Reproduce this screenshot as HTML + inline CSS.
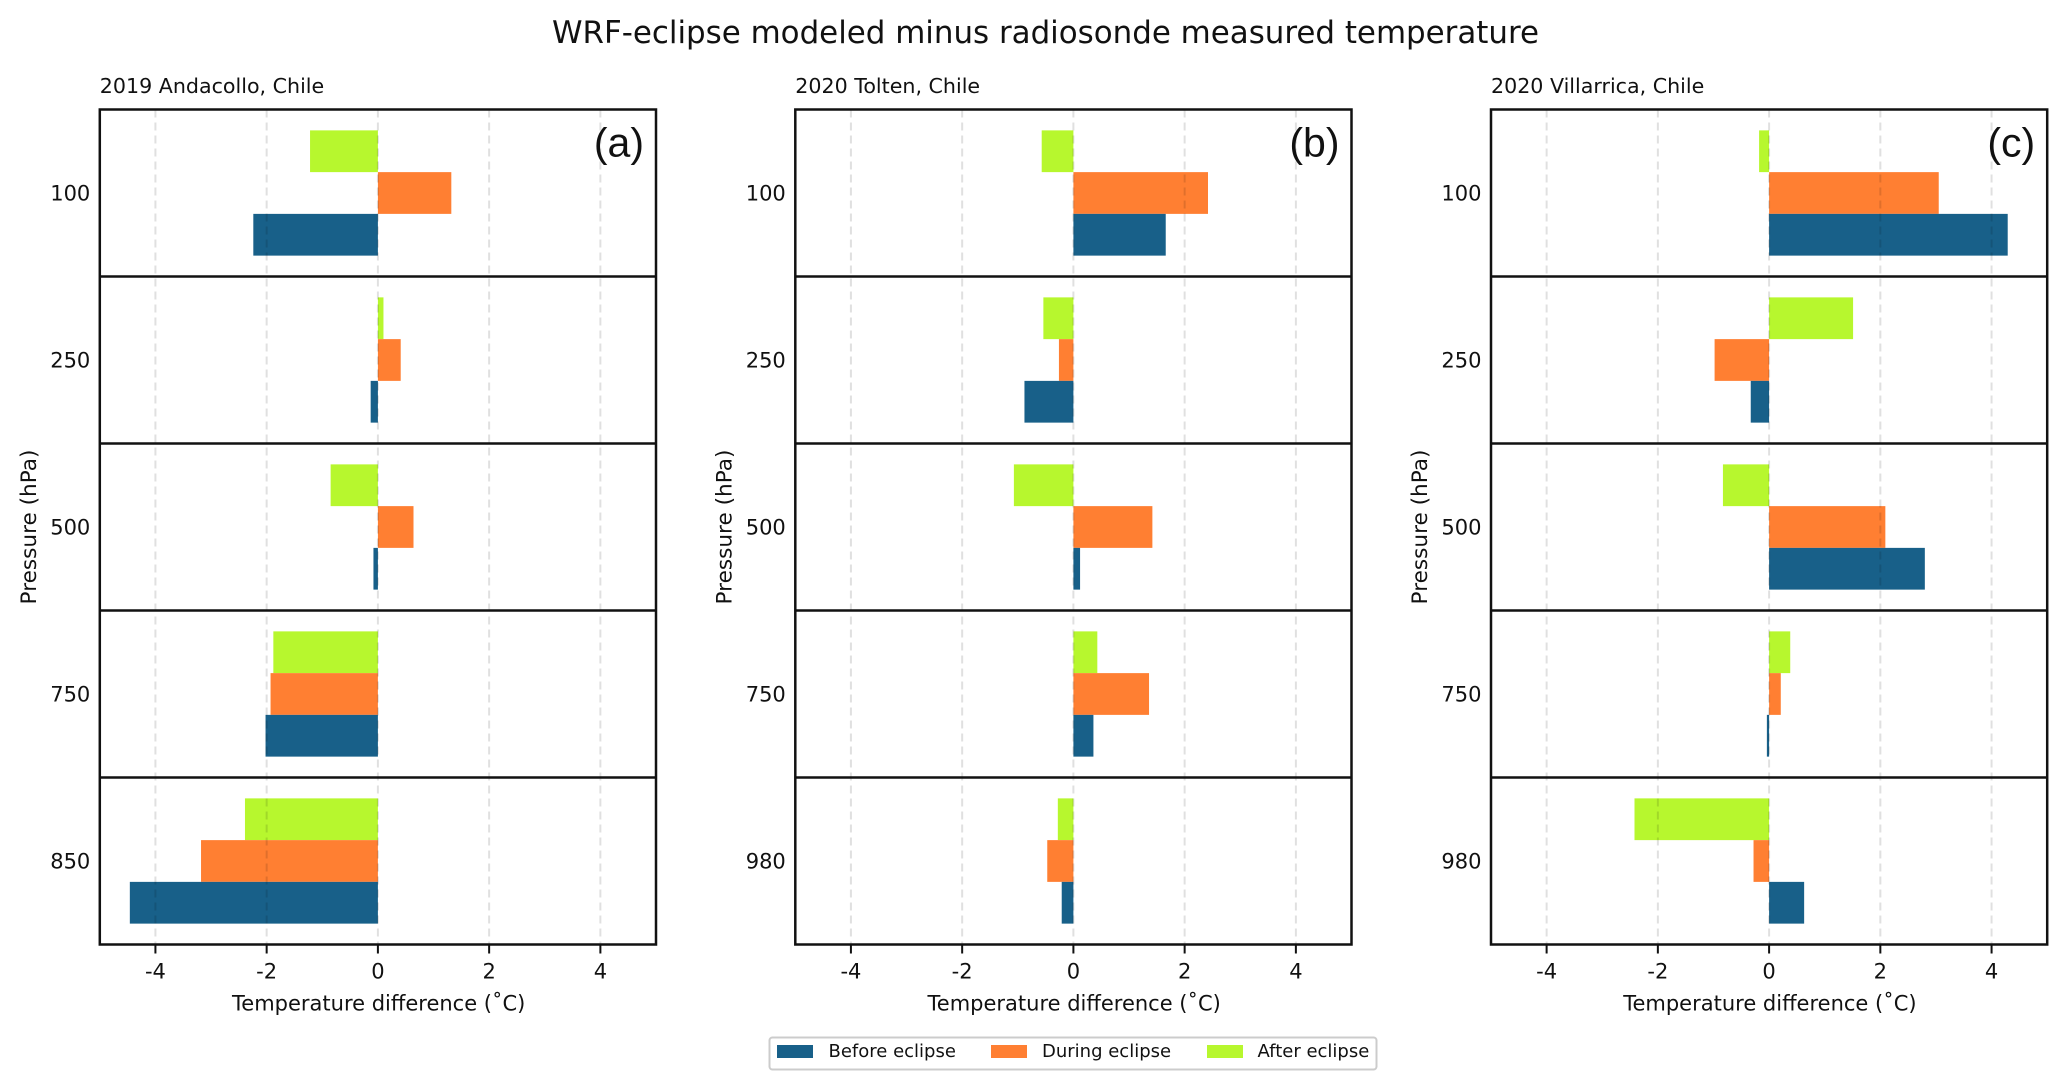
<!DOCTYPE html>
<html lang="en">
<head>
<meta charset="utf-8">
<title>WRF-eclipse modeled minus radiosonde measured temperature</title>
<style>
html,body{margin:0;padding:0;background:#fff;}
svg{display:block;}
text{font-family:"DejaVu Sans",sans-serif;fill:#111;}
</style>
</head>
<body>
<svg id="chart" xmlns="http://www.w3.org/2000/svg" width="2067" height="1089" viewBox="0 0 2067 1089">
  <rect x="0" y="0" width="2067" height="1089" fill="#fff"/>
  <text x="1045.5" y="43" text-anchor="middle" font-size="30.9">WRF-eclipse modeled minus radiosonde measured temperature</text>
  <g id="panels"></g>
  <g>
    <rect x="769.5" y="1037.5" width="607" height="32" rx="3" fill="#fff" stroke="#ccc" stroke-width="2"/>
    <rect x="777" y="1045" width="36" height="13" fill="#186089"/>
    <text x="828.5" y="1057" font-size="18">Before eclipse</text>
    <rect x="991" y="1045" width="36" height="13" fill="#ff7f32"/>
    <text x="1042" y="1057" font-size="18">During eclipse</text>
    <rect x="1207" y="1045" width="36" height="13" fill="#b7f72e"/>
    <text x="1257.5" y="1057" font-size="18">After eclipse</text>
  </g>
</svg>
<script>
// Chart data
const panelTitles = ['2019 Andacollo, Chile', '2020 Tolten, Chile', '2020 Villarrica, Chile'];
const panelLetters = ['(a)', '(b)', '(c)'];
const pressureA = [100, 250, 500, 750, 850];
const pressureB = [100, 250, 500, 750, 980];
const pressureC = [100, 250, 500, 750, 980];
const beforeA = [-2.24, -0.13, -0.08, -2.02, -4.46];
const duringA = [1.32, 0.41, 0.64, -1.93, -3.18];
const afterA = [-1.22, 0.10, -0.85, -1.88, -2.39];
const beforeB = [1.66, -0.88, 0.12, 0.36, -0.21];
const duringB = [2.42, -0.26, 1.42, 1.36, -0.47];
const afterB = [-0.57, -0.54, -1.07, 0.43, -0.28];
const beforeC = [4.29, -0.33, 2.80, -0.04, 0.63];
const duringC = [3.05, -0.98, 2.09, 0.21, -0.28];
const afterC = [-0.18, 1.51, -0.83, 0.38, -2.42];
const xTicks = [-4, -2, 0, 2, 4];
const xDomain = [-5, 5];

const panelPressures = [pressureA, pressureB, pressureC];
const panelBefore = [beforeA, beforeB, beforeC];
const panelDuring = [duringA, duringB, duringC];
const panelAfter = [afterA, afterB, afterC];

const SVG_NS = 'http://www.w3.org/2000/svg';
const panelsRoot = document.getElementById('panels');
const panelLefts = [99.8, 795.3, 1491];
const panelWidth = 556.2;
const plotTop = 109.5;
const rowHeight = 167;
const COLORS = { before: '#186089', during: '#ff7f32', after: '#b7f72e' };

function make(tag, attrs, parent) {
  const el = document.createElementNS(SVG_NS, tag);
  for (const k in attrs) el.setAttribute(k, attrs[k]);
  parent.appendChild(el);
  return el;
}

panelTitles.forEach(function (title, p) {
  const left = panelLefts[p];
  const xScale = function (v) {
    return left + (v - xDomain[0]) / (xDomain[1] - xDomain[0]) * panelWidth;
  };
  const rows = panelPressures[p].length;
  const plotBottom = plotTop + rows * rowHeight;
  const g = make('g', {}, panelsRoot);
  
  

  const titleEl = make('text', { x: left, y: 93, 'font-size': 20.6 }, g);
  titleEl.textContent = title;
  
  

  panelPressures[p].forEach(function (level, r) {
    const rowTop = plotTop + r * rowHeight;
    const barH = rowHeight * 0.25;
    const barTop = rowTop + rowHeight * 0.125;
    const series = [
      ['after', panelAfter[p][r]],
      ['during', panelDuring[p][r]],
      ['before', panelBefore[p][r]]
    ];
    series.forEach(function (s, i) {
      const x0 = xScale(0);
      const x1 = xScale(s[1]);
      const bar = make('rect', {
        x: Math.min(x0, x1), y: barTop + i * barH,
        width: Math.abs(x1 - x0), height: barH, fill: COLORS[s[0]]
      }, g);
      
      
    });
    const label = make('text', {
      x: left - 9.5, y: rowTop + rowHeight / 2 + 7.7, 'text-anchor': 'end', 'font-size': 21
    }, g);
    label.textContent = level;
    
    
  });

  xTicks.forEach(function (t) {
    const x = xScale(t);
    const grid = make('line', {
      x1: x, x2: x, y1: plotTop, y2: plotBottom,
      stroke: '#000', 'stroke-opacity': 0.12, 'stroke-width': 2, 'stroke-dasharray': '8 5'
    }, g);
    
    
    const tick = make('line', {
      x1: x, x2: x, y1: plotBottom, y2: plotBottom + 9, stroke: '#111', 'stroke-width': 2
    }, g);
    
    
    const tickLabel = make('text', {
      x: x, y: plotBottom + 34, 'text-anchor': 'middle', 'font-size': 21
    }, g);
    tickLabel.textContent = t;
    
    
  });

  for (let r = 1; r < rows; r++) {
    const y = plotTop + r * rowHeight;
    const divider = make('line', {
      x1: left, x2: left + panelWidth, y1: y, y2: y, stroke: '#111', 'stroke-width': 2.5
    }, g);
    
    
  }

  const frame = make('rect', {
    x: left, y: plotTop, width: panelWidth, height: plotBottom - plotTop,
    fill: 'none', stroke: '#111', 'stroke-width': 2.5
  }, g);
  
  

  const letter = make('text', {
    x: left + panelWidth - 12, y: plotTop + 47, 'text-anchor': 'end', 'font-size': 41,
    style: 'font-family:"Liberation Sans",sans-serif'
  }, g);
  letter.textContent = panelLetters[p];
  
  

  const xLabel = make('text', {
    x: xScale(0) + 0.8, y: plotBottom + 66, 'text-anchor': 'middle', 'font-size': 21
  }, g);
  xLabel.textContent = 'Temperature difference (\u02DAC)';
  
  

  const yCx = left - 64;
  const yCy = (plotTop + plotBottom) / 2;
  const yLabel = make('text', {
    x: yCx, y: yCy, 'text-anchor': 'middle', 'font-size': 21.6,
    transform: 'rotate(-90 ' + yCx + ' ' + yCy + ')'
  }, g);
  yLabel.textContent = 'Pressure (hPa)';
  
  
});
</script>
</body>
</html>
